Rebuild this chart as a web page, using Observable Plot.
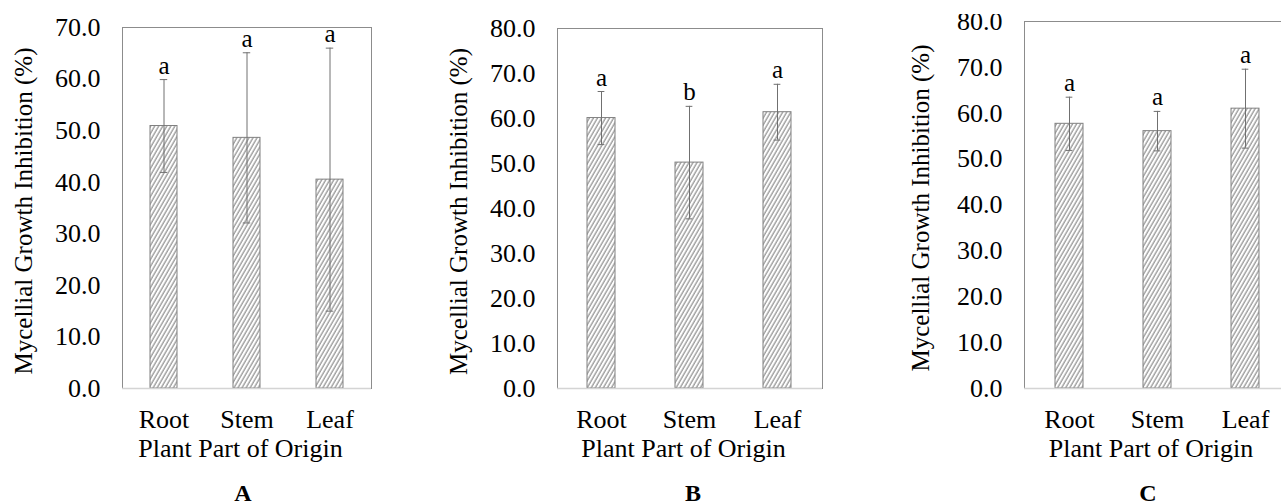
<!DOCTYPE html>
<html><head><meta charset="utf-8">
<script src="https://cdn.jsdelivr.net/npm/d3@7"></script>
<script src="https://cdn.jsdelivr.net/npm/@observablehq/plot@0.6"></script>
<style>
html,body{margin:0;padding:0;background:#fff;overflow:hidden;}
#fig{position:relative;width:1281px;height:502px;overflow:hidden;font-family:"Liberation Serif","Times New Roman",serif;color:#000;}
.panel{position:absolute;overflow:hidden;}
.panel svg{position:absolute;left:0;}
.cap{position:absolute;font-weight:bold;font-size:24px;transform:translate(-50%,-50%);line-height:16px;height:16px;}
</style></head><body>
<svg width="0" height="0" style="position:absolute">
  <defs>
    <pattern id="hatch" width="3.5" height="10" patternUnits="userSpaceOnUse" patternTransform="rotate(30)">
      <rect width="3.5" height="10" fill="#fff"/>
      <line x1="1" y1="0" x2="1" y2="10" stroke="#767676" stroke-width="1"/>
    </pattern>
  </defs>
</svg>
<div id="fig"></div>
<script>
// ---- data ----
const categories = ["Root", "Stem", "Leaf"];
const xTitle = "Plant Part of Origin";
const yTitle = "Mycellial Growth Inhibition (%)";

const meansA = [50.9, 48.6, 40.5];
const sdA = [9.0, 16.5, 25.5];
const lettersA = ["a", "a", "a"];
const yTicksA = [0, 10, 20, 30, 40, 50, 60, 70];

const meansB = [60.1, 50.2, 61.4];
const sdB = [5.9, 12.5, 6.2];
const lettersB = ["a", "b", "a"];
const yTicksB = [0, 10, 20, 30, 40, 50, 60, 70, 80];

const meansC = [57.7, 56.1, 61.0];
const sdC = [5.8, 4.3, 8.6];
const lettersC = ["a", "a", "a"];
const yTicksC = [0, 10, 20, 30, 40, 50, 60, 70, 80];

const panelLabels = ["A", "B", "C"];

// ---- drawing ----
const fig = document.getElementById("fig");

function panel({means, sd, letters, ticks, left, clipTop, width, height, mL, mR, mT, mB, titleX, label, labelX}) {
  const rows = categories.map((c, i) => ({cat: c, mean: means[i], lo: means[i] - sd[i], hi: means[i] + sd[i], letter: letters[i]}));
  const frameW = width - mL - mR;
  const bw = frameW / 3 * 0.32;
  const inset = (bw - 7) / 2;
  const yMax = ticks[ticks.length - 1];
  const chart = Plot.plot({
    width, height,
    marginLeft: mL, marginRight: mR, marginTop: mT, marginBottom: mB,
    style: {fontFamily: "'Liberation Serif', 'Times New Roman', serif", color: "#000", background: "transparent", overflow: "visible"},
    x: {domain: categories, paddingInner: 0.68, paddingOuter: 0.34},
    y: {domain: [0, yMax]},
    marks: [
      Plot.frame({stroke: "#8c8c8c"}),
      Plot.barY(rows, {x: "cat", y: "mean", fill: "url(#hatch)", stroke: "#808080", strokeWidth: 1}),
      Plot.ruleY([0], {stroke: "#d4d4d4", strokeWidth: 1.5}),
      Plot.ruleX(rows, {x: "cat", y1: "lo", y2: "hi", stroke: "#707070", strokeWidth: 1}),
      Plot.tickY(rows, {x: "cat", y: "hi", stroke: "#707070", insetLeft: inset, insetRight: inset}),
      Plot.tickY(rows, {x: "cat", y: "lo", stroke: "#707070", insetLeft: inset, insetRight: inset}),
      Plot.text(rows, {x: "cat", y: "hi", text: "letter", lineAnchor: "bottom", dy: -6, fontSize: 25, fill: "#000"}),
      Plot.axisY({ticks, tickFormat: d => d.toFixed(1), tickSize: 0, tickPadding: 22, fontSize: 26, label: null, fill: "#000"}),
      Plot.axisX({tickSize: 0, tickPadding: 21, fontSize: 26, label: null, fill: "#000"}),
      Plot.text([xTitle], {frameAnchor: "bottom", text: d => d, textAnchor: "middle", lineAnchor: "middle", dy: 60, dx: -6.5, fontSize: 26, fill: "#000"}),
      Plot.text([yTitle], {frameAnchor: "left", text: d => d, textAnchor: "middle", lineAnchor: "middle", rotate: -90, dx: -(mL - titleX), dy: 3, fontSize: 25, fill: "#000"})
    ]
  });
  const wrap = document.createElement("div");
  wrap.className = "panel";
  wrap.style.left = left + "px";
  wrap.style.top = clipTop + "px";
  wrap.style.width = width + "px";
  wrap.style.height = (height - clipTop) + "px";
  chart.style.top = (-clipTop) + "px";
  wrap.appendChild(chart);
  fig.appendChild(wrap);
  const cap = document.createElement("div");
  cap.className = "cap";
  cap.textContent = label;
  cap.style.left = labelX + "px";
  cap.style.top = "493px";
  fig.appendChild(cap);
}

panel({means: meansA, sd: sdA, letters: lettersA, ticks: yTicksA, left: 0, clipTop: 0,
  width: 420, height: 470, mL: 122, mR: 49, mT: 27, mB: 82, titleX: 23, label: panelLabels[0], labelX: 243});
panel({means: meansB, sd: sdB, letters: lettersB, ticks: yTicksB, left: 430, clipTop: 0,
  width: 430, height: 470, mL: 127, mR: 38, mT: 28, mB: 82, titleX: 28, label: panelLabels[1], labelX: 693});
panel({means: meansC, sd: sdC, letters: lettersC, ticks: yTicksC, left: 860, clipTop: 14,
  width: 440, height: 470, mL: 164, mR: 10, mT: 21, mB: 82, titleX: 60, label: panelLabels[2], labelX: 1148});
</script>
</body></html>
